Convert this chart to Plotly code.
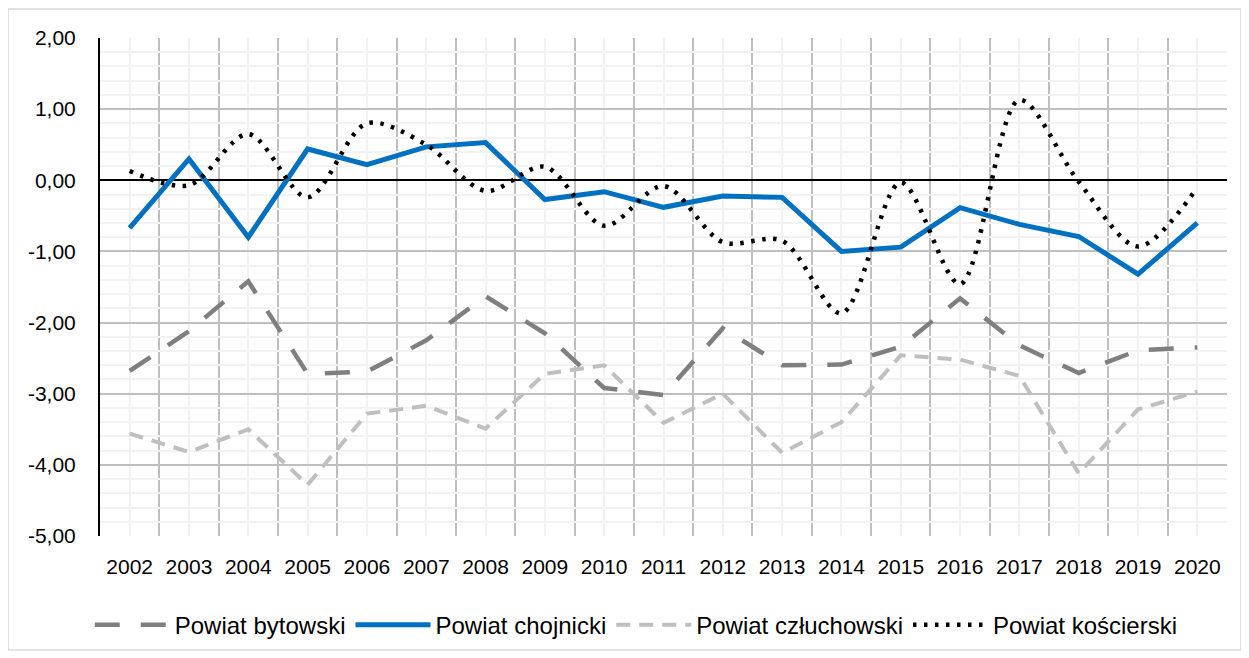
import plotly.graph_objects as go

years = list(range(2002, 2021))
year_labels = [str(y) for y in years]

bytowski = [-2.68, -2.12, -1.42, -2.72, -2.69, -2.25, -1.63, -2.15, -2.92, -3.02,
            -2.08, -2.60, -2.59, -2.34, -1.66, -2.32, -2.71, -2.39, -2.35]
chojnicki = [-0.67, 0.30, -0.80, 0.44, 0.22, 0.47, 0.53, -0.27, -0.16, -0.38,
             -0.22, -0.24, -1.00, -0.94, -0.385, -0.62, -0.79, -1.32, -0.60]
czluchowski = [-3.56, -3.82, -3.50, -4.28, -3.28, -3.17, -3.49, -2.72, -2.60, -3.41,
               -3.00, -3.83, -3.40, -2.46, -2.52, -2.75, -4.12, -3.22, -2.97]
koscierski = [0.13, -0.07, 0.65, -0.24, 0.80, 0.50, -0.15, 0.19, -0.64, -0.08,
              -0.87, -0.85, -1.87, -0.03, -1.46, 1.13, -0.02, -0.93, -0.10]

y_tick_vals = [-5, -4, -3, -2, -1, 0, 1, 2]
y_tick_labels = ["-5,00", "-4,00", "-3,00", "-2,00", "-1,00", "0,00", "1,00", "2,00"]

FONT = "Liberation Sans, Arial, sans-serif"

fig = go.Figure()
fig.add_trace(go.Scatter(x=years, y=bytowski, name="Powiat bytowski", mode="lines",
                         line=dict(color="#7f7f7f", width=4.5, dash="25px,21px")))
fig.add_trace(go.Scatter(x=years, y=chojnicki, name="Powiat chojnicki", mode="lines",
                         line=dict(color="#0070C0", width=5)))
fig.add_trace(go.Scatter(x=years, y=czluchowski, name="Powiat człuchowski", mode="lines",
                         line=dict(color="#bfbfbf", width=4, dash="14px,9px")))
fig.add_trace(go.Scatter(x=years, y=koscierski, name="Powiat kościerski", mode="lines",
                         line=dict(color="#000000", width=4.5, dash="3.5px,7.5px",
                                   shape="spline", smoothing=0.9)))

boundaries = [y - 0.5 for y in years] + [years[-1] + 0.5]

# page body adds an 8px offset; margins compensate
L, T, PW, PH = 92, 30, 1127, 498
fig.update_layout(
    width=1249, height=658,
    margin=dict(l=L, r=1249 - L - PW, t=T, b=658 - T - PH, autoexpand=False),
    paper_bgcolor="white", plot_bgcolor="white",
    font=dict(family=FONT, size=21, color="#000000"),
    showlegend=True,
    legend=dict(orientation="h", xref="container", yref="container",
                x=0.503, xanchor="center", y=0.062, yanchor="middle",
                font=dict(size=24), itemwidth=75, bgcolor="rgba(0,0,0,0)"),
    xaxis=dict(range=[2001.5, 2020.5], tickmode="array", tickvals=years, ticktext=year_labels,
               showgrid=True, gridcolor="#f2f2f2", gridwidth=1.5, ticks="", zeroline=False,
               showline=False, ticklabelstandoff=16, automargin=False,
               tickfont=dict(size=21),
               minor=dict(tickmode="array", tickvals=boundaries, showgrid=True,
                          gridcolor="#bfbfbf", gridwidth=1.5, ticks="")),
    yaxis=dict(range=[-5, 2], tickmode="array", tickvals=y_tick_vals, ticktext=y_tick_labels,
               showgrid=True, gridcolor="#bfbfbf", gridwidth=1.5, ticks="",
               zeroline=True, zerolinecolor="#000000", zerolinewidth=2,
               showline=True, linecolor="#000000", linewidth=2, ticklabelstandoff=18,
               automargin=False, tickfont=dict(size=21),
               minor=dict(dtick=0.2, tick0=0, showgrid=True, gridcolor="#f2f2f2",
                          gridwidth=1.5, ticks="")),
    shapes=[dict(type="rect", xref="paper", yref="paper",
                 x0=(0 - L) / PW, x1=(1233 - L) / PW,
                 y0=(T + PH - 642) / PH, y1=(T + PH - 1) / PH,
                 line=dict(color="#d9d9d9", width=1.5), fillcolor="rgba(0,0,0,0)", layer="below")],
)

fig.write_html("out.html")
